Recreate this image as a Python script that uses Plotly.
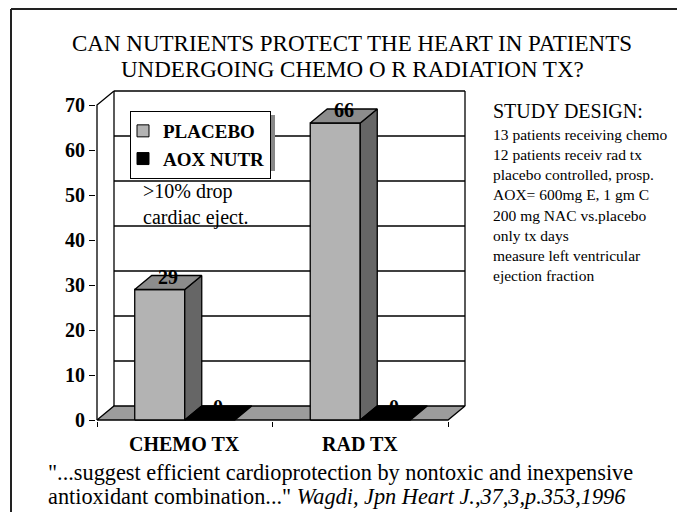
import plotly.graph_objects as go

# ---------------- data ----------------
categories = ["CHEMO TX", "RAD TX"]
series_names = ["PLACEBO", "AOX NUTR"]
placebo = [29, 66]
aox_nutr = [0, 0]
y_ticks = [0, 10, 20, 30, 40, 50, 60, 70]

title_lines = ["CAN NUTRIENTS PROTECT THE HEART IN PATIENTS",
               "UNDERGOING CHEMO O R RADIATION TX?"]
study_title = "STUDY DESIGN:"
study_lines = ["13 patients receiving chemo",
               "12 patients receiv rad tx",
               "placebo controlled, prosp.",
               "AOX= 600mg E, 1 gm C",
               "200 mg NAC vs.placebo",
               "only tx days",
               "measure left ventricular",
               "ejection fraction"]
note_lines = [">10% drop", "cardiac eject."]
caption_1 = "\"...suggest efficient cardioprotection by nontoxic and inexpensive"
caption_2 = "antioxidant combination...\" "
citation = "Wagdi, Jpn Heart J.,37,3,p.353,1996"

# ---------------- style ----------------
FONT = "Liberation Serif"
W, H = 677, 512
SX, SY = 175.5, 4.5          # px per data unit
DX, DY = 17 / SX, 14 / SY    # 3-D depth offset in data units
BAR_W = 0.285
YMAX = max(y_ticks)
FRONT_X0 = 97                # px of front axis
FRONT_Y0 = 420               # px of front zero line

C_FRONT = "#b3b3b3"
C_SIDE = "#666666"
C_TOP = "#8c8c8c"
C_FLOOR = "#9c9c9c"
C_AOX = "#000000"
LW = 1.3

X0 = -0.5 - 1 / SX
X1 = 1.5 + DX + 1 / SX
Y0 = -1 / SY
Y1 = YMAX + DY + 1 / SY
L = FRONT_X0 + (X0 + 0.5) * SX
PW = (X1 - X0) * SX
R = W - L - PW
BOT = FRONT_Y0 - Y0 * SY
B = H - BOT
PH = (Y1 - Y0) * SY
T = H - B - PH


def px(x):
    return (x - L) / PW


def py(y):
    return (H - B - y) / PH


fig = go.Figure()

# legend entries (real legend)
fig.add_trace(go.Bar(x=[None], y=[None], name=series_names[0],
                     marker=dict(color=C_FRONT, line=dict(color="black", width=1))))
fig.add_trace(go.Bar(x=[None], y=[None], name=series_names[1],
                     marker=dict(color=C_AOX, line=dict(color="black", width=1))))


def poly(xs, ys, fill):
    fig.add_trace(go.Scatter(x=xs + [xs[0]], y=ys + [ys[0]], mode="lines",
                             fill="toself", fillcolor=fill,
                             line=dict(color="black", width=LW),
                             hoverinfo="skip", showlegend=False))


# back wall grid + frame lines
gx, gy = [], []
for v in y_ticks[1:]:
    gx += [-0.5 + DX, 1.5 + DX, None]
    gy += [v + DY, v + DY, None]
gx += [-0.5 + DX, -0.5 + DX, None, 1.5 + DX, 1.5 + DX, None]
gy += [DY, YMAX + DY, None, DY, YMAX + DY, None]
# front axis with top diagonal
gx += [-0.5, -0.5, -0.5 + DX, None]
gy += [0, YMAX, YMAX + DY, None]
fig.add_trace(go.Scatter(x=gx, y=gy, mode="lines",
                         line=dict(color="black", width=LW),
                         hoverinfo="skip", showlegend=False))

# floor
poly([-0.5, 1.5, 1.5 + DX, -0.5 + DX], [0, 0, DY, DY], C_FLOOR)

# bars
for i, cat in enumerate(categories):
    h = placebo[i]
    x0, x1 = i - BAR_W, i
    poly([x0, x1, x1, x0], [0, 0, h, h], C_FRONT)
    poly([x1, x1 + DX, x1 + DX, x1], [0, DY, h + DY, h], C_SIDE)
    poly([x0, x1, x1 + DX, x0 + DX], [h, h, h + DY, h + DY], C_TOP)
    a = aox_nutr[i]
    ax0, ax1 = i, i + BAR_W
    if a > 0:
        poly([ax0, ax1, ax1, ax0], [0, 0, a, a], C_AOX)
        poly([ax1, ax1 + DX, ax1 + DX, ax1], [0, DY, a + DY, a], C_AOX)
    poly([ax0, ax1, ax1 + DX, ax0 + DX], [a, a, a + DY, a + DY], C_AOX)

annotations = []
# data labels
for i in range(len(categories)):
    for vals, xc in ((placebo, i - BAR_W / 2), (aox_nutr, i + BAR_W / 2)):
        annotations.append(dict(x=xc + DX / 2, y=vals[i] + DY, xref="x", yref="y",
                                text=str(vals[i]), showarrow=False, yanchor="middle",
                                yshift=-1,
                                font=dict(family=FONT, size=20, color="black", weight="bold")))
# category labels
for i, cat in enumerate(categories):
    annotations.append(dict(x=i, y=py(444), xref="x", yref="paper", text=cat,
                            showarrow=False, yanchor="middle",
                            font=dict(family=FONT, size=20, color="black", weight="bold")))
# title
for line, yc in zip(title_lines, (43, 69)):
    annotations.append(dict(x=px(352), y=py(yc), xref="paper", yref="paper", text=line,
                            showarrow=False, xanchor="center", yanchor="middle",
                            font=dict(family=FONT, size=23, color="black")))
# study design
annotations.append(dict(x=px(491), y=py(111), xref="paper", yref="paper", text=study_title,
                        showarrow=False, xanchor="left", yanchor="middle",
                        font=dict(family=FONT, size=20, color="black")))
annotations.append(dict(x=px(491), y=py(124), xref="paper", yref="paper",
                        text="<br>".join(study_lines), align="left",
                        showarrow=False, xanchor="left", yanchor="top",
                        font=dict(family=FONT, size=15.5, color="black")))
# note
annotations.append(dict(x=px(141), y=py(204), xref="paper", yref="paper",
                        text="<br>".join(note_lines), align="left",
                        showarrow=False, xanchor="left", yanchor="middle",
                        font=dict(family=FONT, size=20, color="black")))
# caption
annotations.append(dict(x=px(46), y=py(472), xref="paper", yref="paper", text=caption_1,
                        showarrow=False, xanchor="left", yanchor="middle",
                        font=dict(family=FONT, size=22.3, color="black")))
annotations.append(dict(x=px(46), y=py(497), xref="paper", yref="paper",
                        text=caption_2 + "<i>" + citation + "</i>",
                        showarrow=False, xanchor="left", yanchor="middle",
                        font=dict(family=FONT, size=22.3, color="black")))

LEG_L, LEG_T = 130, 111
LEG_W, LEG_H = 141, 56
shapes = [
    # slide frame (top and left)
    dict(type="line", xref="paper", yref="paper", x0=px(11), x1=px(700), y0=py(9), y1=py(9),
         line=dict(color="#222222", width=2)),
    dict(type="line", xref="paper", yref="paper", x0=px(11), x1=px(11), y0=py(9), y1=py(530),
         line=dict(color="#222222", width=2)),
    # legend shadow
    dict(type="rect", xref="paper", yref="paper",
         x0=px(LEG_L + 4), x1=px(LEG_L + LEG_W + 4), y0=py(LEG_T + LEG_H + 4), y1=py(LEG_T + 4),
         fillcolor="#888888", line=dict(width=0), layer="above"),
]

fig.update_layout(
    width=W, height=H,
    margin=dict(l=L, r=R, t=T, b=B, pad=0),
    paper_bgcolor="white", plot_bgcolor="white",
    showlegend=True,
    legend=dict(x=px(LEG_L), y=py(LEG_T), xanchor="left", yanchor="top",
                bgcolor="white", bordercolor="black", borderwidth=1,
                font=dict(family=FONT, size=19, color="black", weight="bold"),
                traceorder="normal", itemclick=False, itemdoubleclick=False,
                itemwidth=30, tracegroupgap=0, indentation=-8),
    xaxis=dict(range=[X0, X1], showgrid=False, zeroline=False, showline=False,
               tickvals=[-0.5, 0.5, 1.5], ticktext=["", "", ""],
               ticks="outside", ticklen=5, tickcolor="black", tickwidth=1.3,
               fixedrange=True),
    yaxis=dict(range=[Y0, Y1], showgrid=False, zeroline=False, showline=False,
               tickvals=y_ticks, ticktext=[str(v) for v in y_ticks],
               ticks="outside", ticklen=6, tickcolor="black", tickwidth=1.3,
               tickfont=dict(family=FONT, size=20, color="black", weight="bold"),
               fixedrange=True),
    annotations=annotations,
    shapes=shapes,
    barmode="group",
)

fig.write_html("out.html", config={"displayModeBar": False},
               post_script="document.body.style.margin='0';")
